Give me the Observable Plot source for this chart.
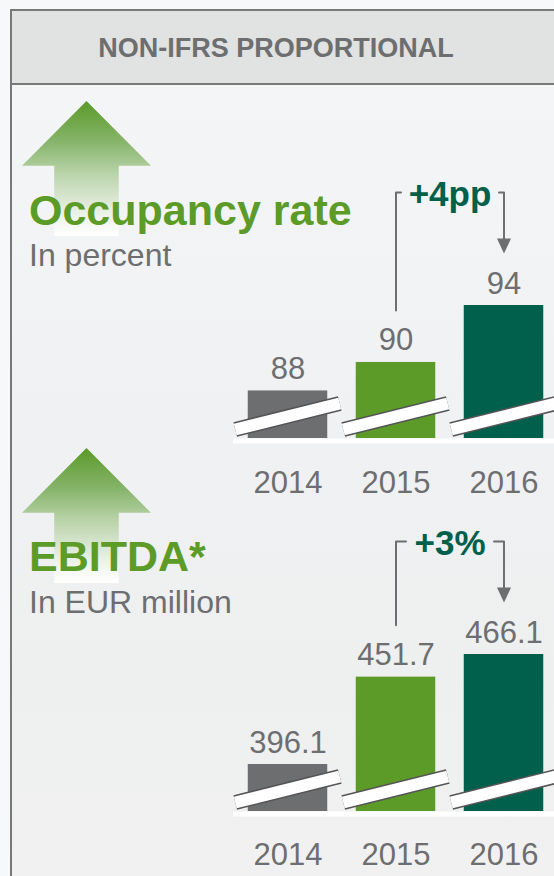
<!DOCTYPE html>
<html>
<head>
<meta charset="utf-8">
<script src="https://cdn.jsdelivr.net/npm/d3@7"></script>
<script src="https://cdn.jsdelivr.net/npm/@observablehq/plot@0.6"></script>
<style>
  html, body { margin: 0; padding: 0; }
  body { width: 554px; height: 876px; overflow: hidden; position: relative; background: #f7f8f9;
         font-family: "Liberation Sans", Arial, sans-serif; }
  #bg { position: absolute; left: 10px; top: 82px; width: 600px; height: 800px;
        background: linear-gradient(to bottom, #f4f5f6 0%, #f0f1f2 45%, #eeefef 75%, #f1f1f1 100%);
        border-left: 2px solid #787878; }
  #header { position: absolute; left: 10px; top: 9px; width: 600px; height: 76px; box-sizing: border-box;
            background: #e1e2e2; border: 2px solid #787878; }
  #htext { position: absolute; left: 0; top: 35px; width: 552px; text-align: center; line-height: 1;
           font-size: 27px; font-weight: bold; color: #6d6e70; }
  .arrow { position: absolute; left: 22px; width: 129px; height: 135px;
           clip-path: polygon(50% 0, 100% 48%, 75% 48%, 75% 100%, 25% 100%, 25% 48%, 0 48%);
           background: linear-gradient(to bottom, #5a9a28 0%, #86b46a 30%, #bcd5ad 55%, #eef3eb 85%, #ffffff 100%); }
  .title { position: absolute; left: 29px; line-height: 1; font-size: 43px; font-weight: bold; color: #5c9b28; white-space: nowrap; }
  .sub { position: absolute; left: 29px; line-height: 1; font-size: 32px; color: #6d6e70; white-space: nowrap; }
  .panel { position: absolute; left: 0; }
</style>
</head>
<body>
<div id="bg"></div>
<div id="header"></div>
<div id="htext">NON-IFRS PROPORTIONAL</div>

<div class="arrow" style="top:101px"></div>
<div class="arrow" style="top:448px"></div>

<div class="title" style="top:189px">Occupancy rate</div>
<div class="sub" style="top:239px">In percent</div>
<div class="title" style="top:535px">EBITDA*</div>
<div class="sub" style="top:586px">In EUR million</div>

<div class="panel" id="p1" style="top:170px"></div>
<div class="panel" id="p2" style="top:520px"></div>

<script>
// ---- data ----
const years = [2014, 2015, 2016];
const occupancy = [88, 90, 94];          // percent
const ebitda = [396.1, 451.7, 466.1];    // EUR million
const changeLabels = ["+4pp", "+3%"];
const palette = ["#6d6e70", "#5c9b28", "#00604b"];

const gray = "#6d6e70";
const darkGreen = "#00604b";
const font = "Liberation Sans, Arial, sans-serif";

function makePanel(values, o) {
  const data = years.map((year, i) => ({year, value: values[i]}));
  const yMax = d3.max(values);
  const xRange = [287.5, 503.5];
  const xs = d3.scaleLinear([2014, 2016], xRange);
  const ys = d3.scaleLinear([o.yMin, yMax], [o.bottom, o.maxTop]);
  const step = xs(2015) - xs(2014);
  const half = 79.5 / 2 / step;           // bar half width in year units
  const xpx = px => px / step;            // pixel offset -> year units
  const yAt = px => ys.invert(px);        // local pixel -> value units

  // annotation geometry, relative to the bars
  const topPx = ys(values[2]) - 113;
  const leftLegEnd = ys(values[1]) - 52;
  const tipPx = ys(values[2]) - 52;
  const headH = 15, headW = 7;
  const leftBracket = [
    {x: years[1], y: yAt(leftLegEnd)},
    {x: years[1], y: yAt(topPx)},
    {x: years[1] + xpx(o.stubL), y: yAt(topPx)}
  ];
  const rightBracket = [
    {x: years[2] - xpx(o.stubR), y: yAt(topPx)},
    {x: years[2], y: yAt(topPx)},
    {x: years[2], y: yAt(tipPx - headH + 1)}
  ];
  const head = [
    {x: years[2] - xpx(headW), y: yAt(tipPx - headH)},
    {x: years[2] + xpx(headW), y: yAt(tipPx - headH)},
    {x: years[2], y: yAt(tipPx)}
  ];

  const brk = {
    x1: d => d.year - half - xpx(13),
    x2: d => d.year + half + xpx(12),
    y1: () => yAt(o.bottom - 9),
    y2: () => yAt(o.bottom - 35)
  };

  return Plot.plot({
    width: 554,
    height: o.height,
    marginLeft: 233,
    marginRight: 0,
    marginTop: 0,
    marginBottom: o.height - o.bottom,
    style: {fontFamily: font, fontSize: "31px", color: gray, background: "transparent", overflow: "visible"},
    x: {domain: [2014, 2016], range: xRange, axis: null},
    y: {domain: [o.yMin, yMax], range: [o.bottom, o.maxTop], axis: null},
    color: {type: "ordinal", domain: years, range: palette},
    marks: [
      Plot.rectY(data, {x1: d => d.year - half, x2: d => d.year + half, y1: () => o.yMin, y2: "value", fill: "year"}),
      Plot.link(data, {...brk, stroke: "#555557", strokeWidth: 15}),
      Plot.link(data, {...brk, stroke: "#ffffff", strokeWidth: 12}),
      Plot.ruleY([o.yMin], {stroke: "#ffffff", strokeWidth: 5, dy: 2.5}),
      Plot.text(data, {x: "year", y: "value", text: d => o.fmt(d.value), lineAnchor: "bottom", dy: -12,
                       fontSize: 31, fill: gray}),
      Plot.line(leftBracket, {x: "x", y: "y", stroke: gray, strokeWidth: 2, curve: "linear"}),
      Plot.line(rightBracket, {x: "x", y: "y", stroke: gray, strokeWidth: 2, curve: "linear"}),
      Plot.line(head, {x: "x", y: "y", fill: gray, stroke: "none", curve: "linear"}),
      Plot.text([o.change], {x: () => (years[1] + years[2]) / 2, y: () => yAt(topPx), text: d => d,
                             lineAnchor: "bottom", dy: 13, fontSize: 35, fontWeight: "bold", fill: darkGreen}),
      Plot.axisX({ticks: years, tickFormat: d => String(d), tickSize: 0, tickPadding: o.pad, fill: gray})
    ]
  });
}

document.getElementById("p1").append(makePanel(occupancy, {
  height: 340, bottom: 268, maxTop: 135, yMin: 84.66, fmt: d3.format(".0f"),
  change: changeLabels[0], stubL: 5, stubR: 5, pad: 32
}));
document.getElementById("p2").append(makePanel(ebitda, {
  height: 356, bottom: 291, maxTop: 134, yMin: 366.2, fmt: d3.format(".1f"),
  change: changeLabels[1], stubL: 10, stubR: 10, pad: 31
}));
</script>
</body>
</html>
